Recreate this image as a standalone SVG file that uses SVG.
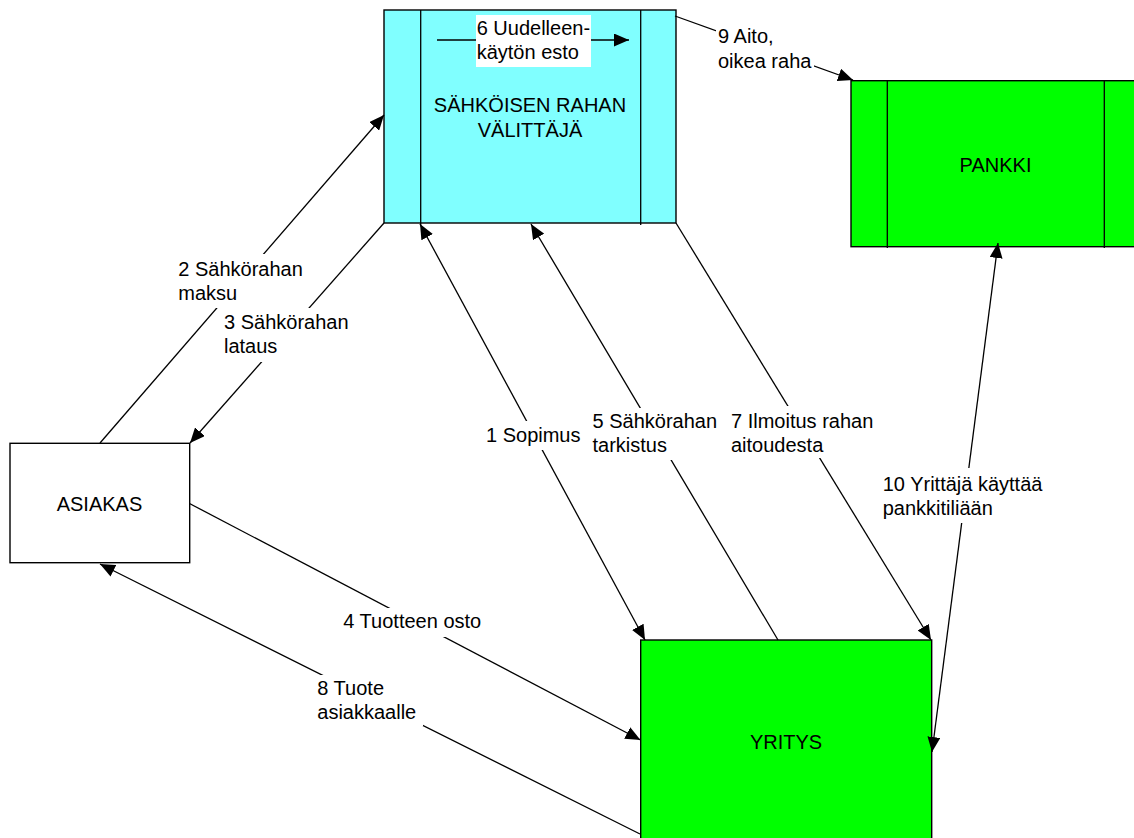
<svg xmlns="http://www.w3.org/2000/svg" width="1134" height="838" viewBox="0 0 1134 838">
  <style>
    .box { stroke: #000; stroke-width: 1.4; }
    .div { stroke: #000; stroke-width: 1.3; fill: none; }
    .cyan { fill: #80FFFF; }
    .green { fill: #00FF00; }
    .white { fill: #FFFFFF; }
    .t { font-family: "Liberation Sans", Arial, sans-serif; font-size: 20px; fill: #000; }
    .c { text-anchor: middle; }
    .edge { stroke: #000; stroke-width: 1.3; fill: none; }
    .arr { marker-end: url(#ah); }
    .bi { marker-start: url(#ah); marker-end: url(#ah); }
    .mask { fill: #FFFFFF; stroke: none; }
  </style>
  <defs>
    <marker id="ah" markerUnits="userSpaceOnUse" markerWidth="15" markerHeight="13" refX="15" refY="6.5" orient="auto-start-reverse" viewBox="0 0 15 13">
      <path d="M0,0 L15,6.5 L0,13 z" fill="#000"/>
    </marker>
  </defs>
  <rect x="0" y="0" width="1134" height="838" fill="#FFFFFF"/>

  <g id="node-valittaja">
    <rect class="box cyan" x="384" y="10" width="292" height="213"/>
    <line class="div" x1="420.7" y1="10" x2="420.7" y2="225"/>
    <line class="div" x1="640.7" y1="10" x2="640.7" y2="225"/>
    <text class="t c" x="530" y="112.3">SÄHKÖISEN RAHAN</text>
    <text class="t c" x="530" y="137.3">VÄLITTÄJÄ</text>
  </g>

  <g id="node-pankki">
    <rect class="box green" x="851" y="80.7" width="289" height="166"/>
    <line class="div" x1="887.3" y1="80.7" x2="887.3" y2="248"/>
    <line class="div" x1="1104.3" y1="80.7" x2="1104.3" y2="248"/>
    <text class="t c" x="995.5" y="172">PANKKI</text>
  </g>

  <g id="node-asiakas">
    <rect class="box white" x="10" y="443.3" width="179.7" height="119.4"/>
    <text class="t c" x="99.5" y="510.7">ASIAKAS</text>
  </g>

  <g id="node-yritys">
    <rect class="box green" x="640.7" y="640" width="291" height="212"/>
    <text class="t c" x="786" y="749">YRITYS</text>
  </g>

  <g id="connectors">
    <line class="edge bi" x1="420" y1="224" x2="645" y2="640"/>
    <line class="edge arr" x1="100" y1="443" x2="384" y2="115"/>
    <line class="edge arr" x1="384" y1="223" x2="190" y2="443"/>
    <line class="edge arr" x1="189.5" y1="503.5" x2="640.5" y2="740"/>
    <line class="edge arr" x1="778" y1="640" x2="531" y2="224"/>
    <line class="edge arr" x1="437" y1="40" x2="629" y2="40"/>
    <line class="edge arr" x1="676" y1="223" x2="931" y2="640"/>
    <line class="edge arr" x1="640" y1="834" x2="100" y2="564"/>
    <line class="edge arr" x1="675" y1="16" x2="853" y2="80"/>
    <line class="edge bi" x1="998" y1="243" x2="932" y2="752"/>
  </g>

  <g id="labels">
    <g id="label-1">
      <rect class="mask" x="484" y="421" width="98" height="29"/>
      <text class="t" x="486" y="441.7">1 Sopimus</text>
    </g>
    <g id="label-2">
      <rect class="mask" x="176" y="254" width="130" height="54"/>
      <text class="t" x="178.3" y="276">2 Sähkörahan</text>
      <text class="t" x="178.3" y="300">maksu</text>
    </g>
    <g id="label-3">
      <rect class="mask" x="222" y="308" width="130" height="54"/>
      <text class="t" x="224" y="329">3 Sähkörahan</text>
      <text class="t" x="224" y="353">lataus</text>
    </g>
    <g id="label-4">
      <rect class="mask" x="341" y="608" width="145" height="29"/>
      <text class="t" x="343.3" y="628.3">4 Tuotteen osto</text>
    </g>
    <g id="label-5">
      <rect class="mask" x="590" y="408" width="130" height="52"/>
      <text class="t" x="592.5" y="427.7">5 Sähkörahan</text>
      <text class="t" x="592.5" y="451.7">tarkistus</text>
    </g>
    <g id="label-6">
      <rect class="mask" x="476" y="15" width="115" height="52"/>
      <text class="t" x="476.7" y="35">6 Uudelleen-</text>
      <text class="t" x="476.7" y="59">käytön esto</text>
    </g>
    <g id="label-7">
      <rect class="mask" x="729" y="406" width="146" height="52"/>
      <text class="t" x="731" y="427.7">7 Ilmoitus rahan</text>
      <text class="t" x="731" y="451.7">aitoudesta</text>
    </g>
    <g id="label-8">
      <rect class="mask" x="315" y="675" width="108" height="51"/>
      <text class="t" x="317.3" y="695">8 Tuote</text>
      <text class="t" x="317.3" y="719.3">asiakkaalle</text>
    </g>
    <g id="label-9">
      <rect class="mask" x="716" y="28" width="98" height="43"/>
      <text class="t" x="718" y="43">9 Aito,</text>
      <text class="t" x="718" y="68">oikea raha</text>
    </g>
    <g id="label-10">
      <rect class="mask" x="880" y="468" width="166" height="55"/>
      <text class="t" x="882.7" y="490.7">10 Yrittäjä käyttää</text>
      <text class="t" x="882.7" y="515">pankkitiliään</text>
    </g>
  </g>
</svg>
